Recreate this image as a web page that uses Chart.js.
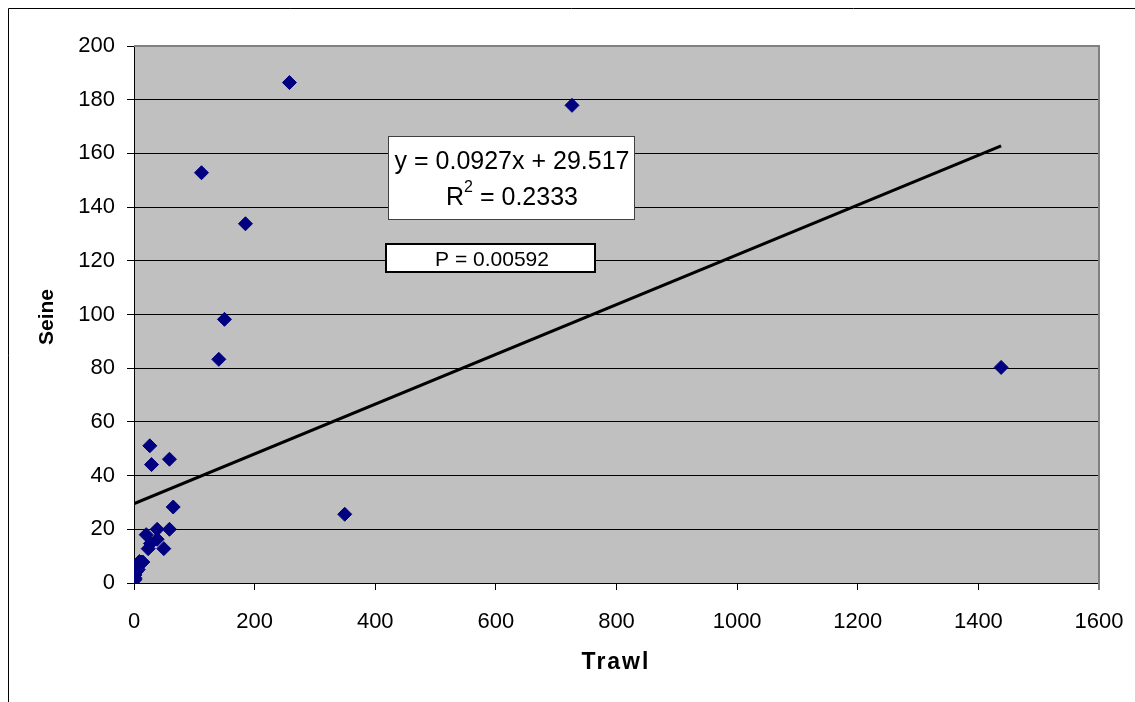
<!DOCTYPE html>
<html>
<head>
<meta charset="utf-8">
<script src="https://cdn.jsdelivr.net/npm/chart.js@4/dist/chart.umd.min.js"></script>
<style>
html,body{margin:0;padding:0;background:#fff;}
canvas{display:block;}
</style>
</head>
<body>
<canvas id="c" width="1135" height="702"></canvas>
<script>
// Data
const trawl = [257.7, 726.2, 111.9, 184.8, 150.0, 140.6, 349.4, 1437.7, 26.2, 29.0, 58.8, 65.0, 38.4, 58.8, 20.2, 38.4, 27.3, 23.5, 49.4, 14.6,
               0.5, 1, 2, 1.5, 3, 4, 5, 6, 7, 9, 12];
const seine = [186.4, 177.9, 152.8, 133.8, 98.2, 83.3, 25.6, 80.3, 51.1, 44.1, 46.1, 28.3, 20.0, 20.0, 18.0, 16.3, 14.7, 12.8, 12.8, 7.8,
               1, 2, 1.5, 3, 4, 5, 6, 7, 5, 8, 7.8];
const slope = 0.0927;
const intercept = 29.517;
const equationText = "y = 0.0927x + 29.517";
const r2Text = "= 0.2333";
const pText = "P = 0.00592";
const xTitle = "Trawl";
const yTitle = "Seine";
const xTicks = [0, 200, 400, 600, 800, 1000, 1200, 1400, 1600];
const yTicks = [0, 20, 40, 60, 80, 100, 120, 140, 160, 180, 200];

const points = trawl.map((x, i) => ({x: x, y: seine[i]}));
const xMin = Math.min(...trawl), xMax = Math.max(...trawl);
const trend = [{x: xMin, y: slope * xMin + intercept}, {x: xMax, y: slope * xMax + intercept}];

const FONT = "'Liberation Sans', Arial, sans-serif";

const decor = {
  id: 'decor',
  beforeDraw(chart) {
    const ctx = chart.ctx, a = chart.chartArea;
    ctx.save();
    ctx.fillStyle = '#fff';
    ctx.fillRect(0, 0, chart.width, chart.height);
    ctx.fillStyle = '#c0c0c0';
    ctx.fillRect(a.left, a.top, a.right - a.left, a.bottom - a.top);
    ctx.strokeStyle = '#000';
    ctx.lineWidth = 1;
    ctx.beginPath();
    ctx.moveTo(8.5, chart.height);
    ctx.lineTo(8.5, 8.5);
    ctx.lineTo(chart.width, 8.5);
    ctx.stroke();
    ctx.restore();
  },
  beforeDatasetsDraw(chart) {
    const ctx = chart.ctx, a = chart.chartArea;
    ctx.save();
    ctx.strokeStyle = '#808080';
    ctx.lineWidth = 2;
    ctx.beginPath();
    ctx.moveTo(a.left, a.top);
    ctx.lineTo(a.right, a.top);
    ctx.lineTo(a.right, a.bottom + 7);
    ctx.stroke();
    ctx.restore();
  },
  afterDraw(chart) {
    const ctx = chart.ctx;
    ctx.save();
    // equation box
    ctx.fillStyle = '#fff';
    ctx.strokeStyle = '#404040';
    ctx.lineWidth = 1;
    ctx.fillRect(388, 136, 247, 84);
    ctx.strokeRect(388.5, 136.5, 246, 83);
    ctx.fillStyle = '#000';
    ctx.font = "25px " + FONT;
    ctx.textAlign = 'center';
    ctx.textBaseline = 'alphabetic';
    ctx.fillText(equationText, 512, 169);
    const rW = ctx.measureText('R').width;
    ctx.font = "16px " + FONT;
    const sW = ctx.measureText('2').width;
    ctx.font = "25px " + FONT;
    const tW = ctx.measureText(' ' + r2Text).width;
    const total = rW + sW + tW;
    let x0 = 512 - total / 2;
    ctx.textAlign = 'left';
    ctx.fillText('R', x0, 205);
    ctx.font = "16px " + FONT;
    ctx.fillText('2', x0 + rW, 192);
    ctx.font = "25px " + FONT;
    ctx.fillText(' ' + r2Text, x0 + rW + sW, 205);
    // P box
    ctx.fillStyle = '#fff';
    ctx.fillRect(385, 243, 211, 30);
    ctx.strokeStyle = '#000';
    ctx.lineWidth = 2;
    ctx.strokeRect(386, 244, 209, 28);
    ctx.fillStyle = '#000';
    ctx.font = "21px " + FONT;
    ctx.textAlign = 'center';
    ctx.fillText(pText, 492, 266);
    // axis titles
    ctx.font = "bold 23px " + FONT;
    ctx.textBaseline = 'middle';
    ctx.letterSpacing = '2px';
    ctx.fillText(xTitle, 616, 663);
    ctx.letterSpacing = '0px';
    ctx.font = "bold 21px " + FONT;
    ctx.translate(47, 317);
    ctx.rotate(-Math.PI / 2);
    ctx.fillText(yTitle, 0, 0);
    ctx.restore();
  }
};

new Chart(document.getElementById('c'), {
  type: 'scatter',
  data: {
    datasets: [
      {
        type: 'scatter',
        data: trend,
        showLine: true,
        borderColor: '#000',
        borderWidth: 3,
        pointRadius: 0,
        fill: false
      },
      {
        data: points,
        pointStyle: 'rectRot',
        pointRadius: 7,
        pointBackgroundColor: '#000080',
        pointBorderColor: '#000080',
        pointBorderWidth: 1
      }
    ]
  },
  options: {
    responsive: false,
    animation: false,
    events: [],
    layout: {padding: {top: 46, right: 36, left: 0, bottom: 0}},
    plugins: {legend: {display: false}, tooltip: {enabled: false}},
    scales: {
      x: {
        type: 'linear',
        min: xTicks[0],
        max: xTicks[xTicks.length - 1],
        afterFit(s) { s.height = 119; s.paddingRight = 0; s.paddingLeft = 0; },
        afterBuildTicks(s) { s.ticks = xTicks.map(v => ({value: v})); },
        grid: {drawOnChartArea: false, drawTicks: true, tickLength: 7, tickColor: '#000', color: '#000'},
        border: {color: '#000', width: 1},
        ticks: {color: '#000', font: {family: FONT, size: 22}, padding: 19, maxRotation: 0, autoSkip: false,
                callback: v => String(v)}
      },
      y: {
        type: 'linear',
        min: yTicks[0],
        max: yTicks[yTicks.length - 1],
        afterFit(s) { s.width = 134; s.paddingTop = 0; s.paddingBottom = 0; },
        afterBuildTicks(s) { s.ticks = yTicks.map(v => ({value: v})); },
        grid: {color: '#000', lineWidth: 1, drawTicks: true, tickLength: 7, tickColor: '#000'},
        border: {color: '#000', width: 1},
        ticks: {color: '#000', font: {family: FONT, size: 22}, padding: 12, autoSkip: false,
                callback: v => String(v)}
      }
    }
  },
  plugins: [decor]
});
</script>
</body>
</html>
